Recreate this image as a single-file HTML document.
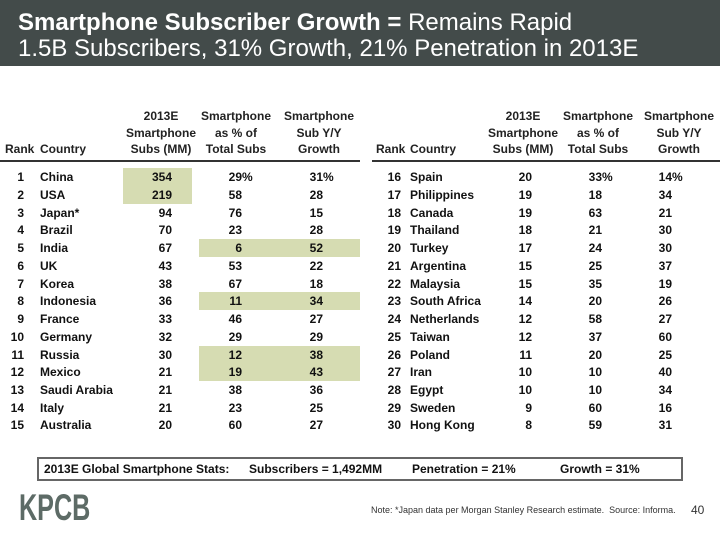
<!DOCTYPE html>
<html><head><meta charset="utf-8"><style>
body{margin:0;width:720px;height:540px;position:relative;background:#fff;font-family:"Liberation Sans",Arial,sans-serif;overflow:hidden}
.band{position:absolute;left:0;top:0;width:720px;height:66px;background:#434b4a;color:#fff}
.t{position:absolute;left:18px;font-size:24px;white-space:nowrap;line-height:1}
.h{position:absolute;font-size:12px;font-weight:bold;color:#222;text-align:center;line-height:16.5px;white-space:nowrap}
.line{position:absolute;top:160px;height:2px;background:#333}
.hl{position:absolute;background:#d6dcb2}
.r{position:absolute;height:18px;line-height:18px;font-size:12px;font-weight:bold;color:#111;white-space:nowrap}
.r span{position:absolute}
.p{display:inline-block;width:0;font-style:normal}
</style></head><body>
<div class="band">
<div class="t" style="top:11px"><b>Smartphone Subscriber Growth =</b> Remains Rapid</div>
<div class="t" style="top:37px">1.5B Subscribers, 31% Growth, 21% Penetration in 2013E</div>
</div>

<div class="h" style="left:5px;top:141px">Rank</div>
<div class="h" style="left:40px;top:141px">Country</div>
<div class="h" style="left:121px;top:108px;width:80px">2013E<br>Smartphone<br>Subs (MM)</div>
<div class="h" style="left:196px;top:108px;width:80px">Smartphone<br>as % of<br>Total Subs</div>
<div class="h" style="left:279px;top:108px;width:80px">Smartphone<br>Sub Y/Y<br>Growth</div>
<div class="h" style="left:376px;top:141px">Rank</div>
<div class="h" style="left:410px;top:141px">Country</div>
<div class="h" style="left:483px;top:108px;width:80px">2013E<br>Smartphone<br>Subs (MM)</div>
<div class="h" style="left:558px;top:108px;width:80px">Smartphone<br>as % of<br>Total Subs</div>
<div class="h" style="left:639px;top:108px;width:80px">Smartphone<br>Sub Y/Y<br>Growth</div>
<div class="line" style="left:0;width:360px"></div>
<div class="line" style="left:372px;width:348px"></div>

<div class="hl" style="left:123px;top:168px;width:69px;height:36px"></div>
<div class="hl" style="left:199px;top:239px;width:161px;height:18px"></div>
<div class="hl" style="left:199px;top:292px;width:161px;height:18px"></div>
<div class="hl" style="left:199px;top:346px;width:161px;height:35px"></div>

<div class="r" style="top:168px;left:0;width:720px">
<span style="right:696px">1</span><span style="left:40px">China</span><span style="right:548px">354</span><span style="right:478px">29<i class="p">%</i></span><span style="right:397px">31<i class="p">%</i></span>
<span style="right:319px">16</span><span style="left:410px">Spain</span><span style="right:188px">20</span><span style="right:118px">33<i class="p">%</i></span><span style="right:48px">14<i class="p">%</i></span></div>
<div class="r" style="top:186px;left:0;width:720px"><span style="right:696px">2</span><span style="left:40px">USA</span><span style="right:548px">219</span><span style="right:478px">58</span><span style="right:397px">28</span><span style="right:319px">17</span><span style="left:410px">Philippines</span><span style="right:188px">19</span><span style="right:118px">18</span><span style="right:48px">34</span></div>
<div class="r" style="top:204px;left:0;width:720px"><span style="right:696px">3</span><span style="left:40px">Japan*</span><span style="right:548px">94</span><span style="right:478px">76</span><span style="right:397px">15</span><span style="right:319px">18</span><span style="left:410px">Canada</span><span style="right:188px">19</span><span style="right:118px">63</span><span style="right:48px">21</span></div>
<div class="r" style="top:221px;left:0;width:720px"><span style="right:696px">4</span><span style="left:40px">Brazil</span><span style="right:548px">70</span><span style="right:478px">23</span><span style="right:397px">28</span><span style="right:319px">19</span><span style="left:410px">Thailand</span><span style="right:188px">18</span><span style="right:118px">21</span><span style="right:48px">30</span></div>
<div class="r" style="top:239px;left:0;width:720px"><span style="right:696px">5</span><span style="left:40px">India</span><span style="right:548px">67</span><span style="right:478px">6</span><span style="right:397px">52</span><span style="right:319px">20</span><span style="left:410px">Turkey</span><span style="right:188px">17</span><span style="right:118px">24</span><span style="right:48px">30</span></div>
<div class="r" style="top:257px;left:0;width:720px"><span style="right:696px">6</span><span style="left:40px">UK</span><span style="right:548px">43</span><span style="right:478px">53</span><span style="right:397px">22</span><span style="right:319px">21</span><span style="left:410px">Argentina</span><span style="right:188px">15</span><span style="right:118px">25</span><span style="right:48px">37</span></div>
<div class="r" style="top:275px;left:0;width:720px"><span style="right:696px">7</span><span style="left:40px">Korea</span><span style="right:548px">38</span><span style="right:478px">67</span><span style="right:397px">18</span><span style="right:319px">22</span><span style="left:410px">Malaysia</span><span style="right:188px">15</span><span style="right:118px">35</span><span style="right:48px">19</span></div>
<div class="r" style="top:292px;left:0;width:720px"><span style="right:696px">8</span><span style="left:40px">Indonesia</span><span style="right:548px">36</span><span style="right:478px">11</span><span style="right:397px">34</span><span style="right:319px">23</span><span style="left:410px">South Africa</span><span style="right:188px">14</span><span style="right:118px">20</span><span style="right:48px">26</span></div>
<div class="r" style="top:310px;left:0;width:720px"><span style="right:696px">9</span><span style="left:40px">France</span><span style="right:548px">33</span><span style="right:478px">46</span><span style="right:397px">27</span><span style="right:319px">24</span><span style="left:410px">Netherlands</span><span style="right:188px">12</span><span style="right:118px">58</span><span style="right:48px">27</span></div>
<div class="r" style="top:328px;left:0;width:720px"><span style="right:696px">10</span><span style="left:40px">Germany</span><span style="right:548px">32</span><span style="right:478px">29</span><span style="right:397px">29</span><span style="right:319px">25</span><span style="left:410px">Taiwan</span><span style="right:188px">12</span><span style="right:118px">37</span><span style="right:48px">60</span></div>
<div class="r" style="top:346px;left:0;width:720px"><span style="right:696px">11</span><span style="left:40px">Russia</span><span style="right:548px">30</span><span style="right:478px">12</span><span style="right:397px">38</span><span style="right:319px">26</span><span style="left:410px">Poland</span><span style="right:188px">11</span><span style="right:118px">20</span><span style="right:48px">25</span></div>
<div class="r" style="top:363px;left:0;width:720px"><span style="right:696px">12</span><span style="left:40px">Mexico</span><span style="right:548px">21</span><span style="right:478px">19</span><span style="right:397px">43</span><span style="right:319px">27</span><span style="left:410px">Iran</span><span style="right:188px">10</span><span style="right:118px">10</span><span style="right:48px">40</span></div>
<div class="r" style="top:381px;left:0;width:720px"><span style="right:696px">13</span><span style="left:40px">Saudi Arabia</span><span style="right:548px">21</span><span style="right:478px">38</span><span style="right:397px">36</span><span style="right:319px">28</span><span style="left:410px">Egypt</span><span style="right:188px">10</span><span style="right:118px">10</span><span style="right:48px">34</span></div>
<div class="r" style="top:399px;left:0;width:720px"><span style="right:696px">14</span><span style="left:40px">Italy</span><span style="right:548px">21</span><span style="right:478px">23</span><span style="right:397px">25</span><span style="right:319px">29</span><span style="left:410px">Sweden</span><span style="right:188px">9</span><span style="right:118px">60</span><span style="right:48px">16</span></div>
<div class="r" style="top:416px;left:0;width:720px"><span style="right:696px">15</span><span style="left:40px">Australia</span><span style="right:548px">20</span><span style="right:478px">60</span><span style="right:397px">27</span><span style="right:319px">30</span><span style="left:410px">Hong Kong</span><span style="right:188px">8</span><span style="right:118px">59</span><span style="right:48px">31</span></div>

<div style="position:absolute;left:37px;top:457px;width:642px;height:20px;border:2px solid #666;font-size:12px;font-weight:bold;line-height:20px;color:#111;white-space:nowrap">
<span style="position:absolute;left:5px">2013E Global Smartphone Stats:</span>
<span style="position:absolute;left:210px">Subscribers = 1,492MM</span>
<span style="position:absolute;left:373px">Penetration = 21%</span>
<span style="position:absolute;left:521px">Growth = 31%</span>
</div>
<div style="position:absolute;left:19px;top:488px;font-family:'Liberation Sans Narrow','Liberation Sans',sans-serif;font-size:37px;font-weight:bold;color:#5d6b66;transform:scaleX(0.68);transform-origin:left;line-height:40px">KPCB</div>
<div style="position:absolute;left:371px;top:505px;font-size:9px;color:#333;white-space:nowrap">Note: *Japan data per Morgan Stanley Research estimate.&nbsp; Source: Informa.</div>
<div style="position:absolute;left:691px;top:503px;font-size:12px;color:#333">40</div>
</body></html>
